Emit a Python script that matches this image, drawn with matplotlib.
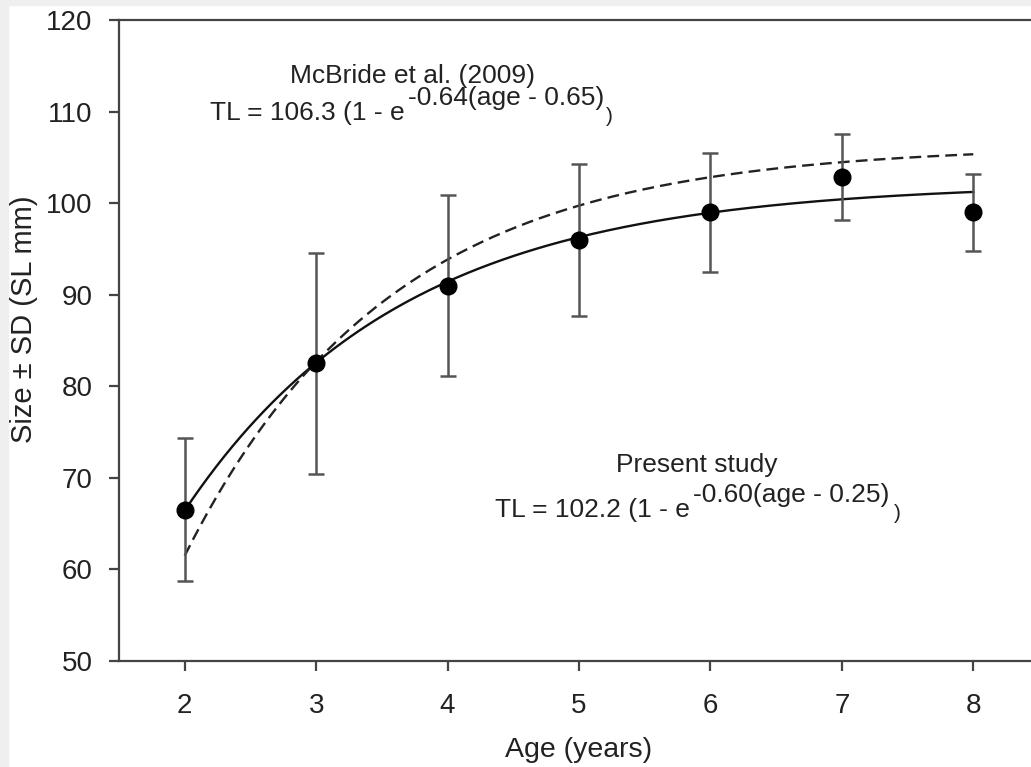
import numpy as np
import matplotlib
matplotlib.use("Agg")
import matplotlib.pyplot as plt
from matplotlib.patches import Rectangle

plt.rcParams['font.family'] = ['Liberation Sans', 'DejaVu Sans']

ages = [2, 3, 4, 5, 6, 7, 8]
mean_size = [66.5, 82.5, 91.0, 96.0, 99.0, 102.9, 99.0]
sd_size = [7.8, 12.1, 9.9, 8.3, 6.5, 4.7, 4.2]

# von Bertalanffy parameters (Linf, K, t0) printed on the chart
present_params = (102.2, 0.60, 0.25)
mcbride_params = (106.3, 0.64, 0.65)

x_ticks = [2, 3, 4, 5, 6, 7, 8]
y_ticks = [50, 60, 70, 80, 90, 100, 110, 120]

W, H = 1031, 767
fig = plt.figure(figsize=(W / 100, H / 100), dpi=100, facecolor='white')
fig.patches.append(Rectangle((0, 1 - 5 / H), 1, 5 / H, transform=fig.transFigure,
                             color='#efefef', zorder=0))
fig.patches.append(Rectangle((0, 0), 8 / W, 1, transform=fig.transFigure,
                             color='#efefef', zorder=0))

left, right, top, bottom = 119, 1039, 20, 661
ax = fig.add_axes([left / W, 1 - bottom / H, (right - left) / W, (bottom - top) / H])
ax.set_xlim(1.5, 8.5)
ax.set_ylim(50, 120)

age_grid = np.linspace(2, 8, 200)
def vb(t, p):
    linf, k, t0 = p
    return linf * (1 - np.exp(-k * (t - t0)))

ax.plot(age_grid, vb(age_grid, present_params), color='#111111', lw=1.7, zorder=3)
ax.plot(age_grid, vb(age_grid, mcbride_params), color='#222222', lw=1.7,
        dashes=(5, 2.6), zorder=3)

ax.errorbar(ages, mean_size, yerr=sd_size, fmt='o', color='black', ms=12,
            ecolor='#555555', elinewidth=1.8, capsize=5.5, capthick=1.8, zorder=4)

for s in ['top', 'right', 'left', 'bottom']:
    ax.spines[s].set_color('#444444')
    ax.spines[s].set_linewidth(1.6)

ax.set_xticks(x_ticks)
ax.set_yticks(y_ticks)
ax.tick_params(direction='out', length=7, width=1.6, color='#444444',
               labelsize=20, labelcolor='#222222')
ax.tick_params(axis='y', pad=12)
ax.tick_params(axis='x', pad=16)

tc = '#222222'
def fig_xy(px, py):
    return px / W, 1 - py / H

# axis labels
x, y = fig_xy(579, 757)
fig.text(x, y, 'Age (years)', ha='center', va='baseline', fontsize=20.5, color=tc)
x, y = fig_xy(24, 319)
fig.text(x, y, 'Size \u00b1 SD (SL mm)', ha='center', va='center', rotation=90,
         fontsize=21, color=tc)

fs = 19
# McBride annotation
x, y = fig_xy(413, 83)
fig.text(x, y, 'McBride et al. (2009)', ha='center', va='baseline', fontsize=fs, color=tc)
x, y = fig_xy(210, 120)
fig.text(x, y, 'TL = 106.3 (1 - e', ha='left', va='baseline', fontsize=fs, color=tc)
x, y = fig_xy(408, 105)
fig.text(x, y, '-0.64(age - 0.65)', ha='left', va='baseline', fontsize=fs, color=tc)
x, y = fig_xy(606, 122)
fig.text(x, y, ')', ha='left', va='baseline', fontsize=15, color=tc)

# Present study annotation
x, y = fig_xy(697, 472)
fig.text(x, y, 'Present study', ha='center', va='baseline', fontsize=fs, color=tc)
x, y = fig_xy(495, 517)
fig.text(x, y, 'TL = 102.2 (1 - e', ha='left', va='baseline', fontsize=fs, color=tc)
x, y = fig_xy(693, 502)
fig.text(x, y, '-0.60(age - 0.25)', ha='left', va='baseline', fontsize=fs, color=tc)
x, y = fig_xy(894, 519)
fig.text(x, y, ')', ha='left', va='baseline', fontsize=15, color=tc)

fig.savefig('out.png', dpi=100, facecolor=fig.get_facecolor())
